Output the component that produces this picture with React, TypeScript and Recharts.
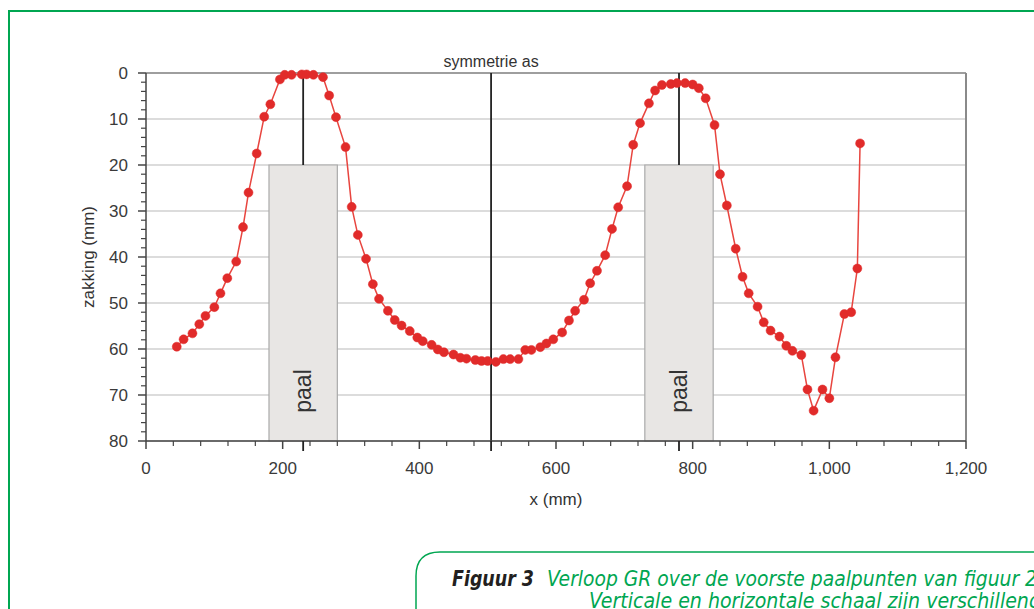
import React from 'react';
import {
  ComposedChart,
  CartesianGrid,
  Line,
  ReferenceArea,
  ReferenceLine,
  XAxis,
  YAxis,
} from 'recharts';

// meetpunten, x in mm
const xMm = [
  45, 55, 68, 78, 87, 100, 109, 119, 132, 142, 150, 162, 173, 182, 196, 203, 213, 228, 235, 245,
  259, 268, 278, 292, 301, 310, 322, 332, 341, 354, 364, 374, 386, 397, 405, 418, 427, 436, 450, 460,
  469, 482, 491, 500, 512, 523, 533, 545, 555, 564, 577, 586, 596, 609, 619, 628, 641, 650, 660, 672,
  682, 691, 704, 713, 723, 736, 745, 755, 768, 777, 789, 800, 809, 819, 832, 840, 850, 863, 873, 882,
  895, 904, 914, 927, 937, 946, 959, 968, 977, 990, 1000, 1009, 1022, 1032, 1041, 1045,
];

// zakking in mm
const zakking = [
  59.5, 57.9, 56.6, 54.6, 52.8, 50.9, 47.9, 44.6, 41.0, 33.5, 26.0, 17.5, 9.5, 6.8, 1.4, 0.4, 0.4, 0.3, 0.3, 0.4,
  0.9, 4.9, 9.6, 16.1, 29.1, 35.2, 40.4, 45.9, 49.1, 51.7, 53.7, 54.9, 56.1, 57.5, 58.3, 59.1, 60.1, 60.7, 61.2, 61.9,
  62.1, 62.4, 62.6, 62.6, 62.8, 62.2, 62.2, 62.2, 60.2, 60.2, 59.6, 58.8, 57.9, 56.4, 53.8, 51.7, 49.3, 45.7, 43.0, 39.6,
  33.9, 29.2, 24.6, 15.6, 10.9, 6.6, 3.8, 2.6, 2.4, 2.2, 2.2, 2.5, 3.3, 5.5, 11.3, 22.0, 28.8, 38.2, 44.3, 47.9,
  50.8, 54.2, 56.0, 57.3, 59.3, 60.4, 61.3, 68.8, 73.4, 68.8, 70.7, 61.8, 52.4, 52.0, 42.5, 15.3,
];

const xTicks = [0, 200, 400, 600, 800, 1000, 1200];
const yTicks = [0, 10, 20, 30, 40, 50, 60, 70, 80];
const xMinorTicks = Array.from({ length: 31 }, (_, i) => i * 40);
const yMinorTicks = Array.from({ length: 41 }, (_, i) => i * 2);
const yMax = 80;

const symmetrieX = 505;
const paalMidden = [230, 780];
const paalVan = [180, 730];
const paalTot = [280, 830];
const paalKop = 20;

const data = xMm.map((x, i) => ({ x, z: zakking[i] }));
const markTicks = [...paalMidden, symmetrieX];
const allXTicks = [...xMinorTicks, ...markTicks].sort((a, b) => a - b);

const FONT = "'Liberation Sans', Arial, sans-serif";
const CAPTION_FONT = "'Liberation Sans Narrow', 'DejaVu Sans Condensed', sans-serif";
const GREEN = '#00a651';
const AXIS = '#444';

const XTick = (props: any) => {
  const { x, y, payload } = props;
  const v = payload.value;
  const isMark = markTicks.includes(v);
  const isMajor = xTicks.includes(v);
  const len = isMark ? 10 : isMajor ? 8 : 5;
  return (
    <g>
      <line
        x1={x}
        x2={x}
        y1={y}
        y2={y + len}
        stroke={isMark ? '#222' : AXIS}
        strokeWidth={isMark ? 1.8 : isMajor ? 1.5 : 1.2}
      />
      {isMajor && (
        <text x={x} y={y + 33} textAnchor="middle" fontSize={17} fontFamily={FONT} fill="#3a3a3a">
          {v.toLocaleString('en-US')}
        </text>
      )}
    </g>
  );
};

const YTick = (props: any) => {
  const { x, y, payload } = props;
  const v = payload.value;
  const isMajor = yTicks.includes(v);
  return (
    <g>
      <line x1={x - (isMajor ? 8 : 5)} x2={x} y1={y} y2={y} stroke={AXIS} strokeWidth={isMajor ? 1.5 : 1.2} />
      {isMajor && (
        <text x={x - 18} y={y + 6} textAnchor="end" fontSize={17} fontFamily={FONT} fill="#3a3a3a">
          {v}
        </text>
      )}
    </g>
  );
};

const PaalLabel = (props: any) => {
  const { x, y, width, height } = props.viewBox;
  const cx = x + width / 2;
  const cy = y + height - 50;
  return (
    <text
      x={cx}
      y={cy}
      transform={`rotate(-90 ${cx} ${cy})`}
      textAnchor="middle"
      dominantBaseline="central"
      fontSize={23}
      fontFamily={FONT}
      fill="#333"
    >
      paal
    </text>
  );
};

const YTitle = (props: any) => {
  const { x, y, width, height } = props.viewBox;
  const cx = x + width - 58;
  const cy = y + height / 2;
  return (
    <text
      x={cx}
      y={cy}
      transform={`rotate(-90 ${cx} ${cy})`}
      textAnchor="middle"
      dominantBaseline="central"
      fontSize={17}
      fontFamily={FONT}
      fill="#333"
    >
      zakking (mm)
    </text>
  );
};

const XTitle = (props: any) => {
  const { x, y, width } = props.viewBox;
  return (
    <text
      x={x + width / 2}
      y={y + 58}
      textAnchor="middle"
      dominantBaseline="central"
      fontSize={17}
      fontFamily={FONT}
      fill="#333"
    >
      x (mm)
    </text>
  );
};

// rasterlijnen alleen op de hoofdstreepjes
const gridRows = ({ yAxis, offset }: any) =>
  yTicks.map((t) =>
    yAxis && typeof yAxis.scale === 'function'
      ? yAxis.scale(t)
      : offset.top + (t / yMax) * offset.height,
  );

export default function App() {
  return (
    <div
      style={{
        position: 'absolute',
        left: 0,
        top: 0,
        width: 1034,
        height: 609,
        overflow: 'hidden',
        background: '#fff',
      }}
    >
      <ComposedChart
        width={1034}
        height={609}
        data={data}
        margin={{ top: 73, right: 68, bottom: 108, left: 0 }}
      >
        <CartesianGrid
          xAxisId="x"
          yAxisId="y"
          vertical={false}
          horizontalCoordinatesGenerator={gridRows}
          stroke="#d0d0d0"
          strokeWidth={1.5}
        />
        <XAxis
          xAxisId="x"
          type="number"
          dataKey="x"
          domain={[0, 1200]}
          ticks={allXTicks}
          interval={0}
          height={60}
          tickSize={0}
          tickMargin={0}
          tick={<XTick />}
          tickLine={false}
          axisLine={{ stroke: AXIS, strokeWidth: 1.5 }}
          label={{ content: XTitle }}
        />
        <YAxis
          yAxisId="y"
          type="number"
          reversed
          domain={[0, yMax]}
          ticks={yMinorTicks}
          interval={0}
          width={146}
          tickSize={0}
          tickMargin={0}
          tick={<YTick />}
          tickLine={false}
          axisLine={{ stroke: AXIS, strokeWidth: 1.5 }}
          label={{ content: YTitle }}
        />
        {paalVan.map((van, i) => (
          <ReferenceArea
            key={`paal-${i}`}
            xAxisId="x"
            yAxisId="y"
            x1={van}
            x2={paalTot[i]}
            y1={paalKop}
            y2={yMax}
            fill="#e8e6e4"
            fillOpacity={1}
            stroke="#aaa"
            strokeWidth={1.2}
            label={{ content: PaalLabel }}
          />
        ))}
        <ReferenceLine xAxisId="x" yAxisId="y" y={0} stroke="#8a8a8a" strokeWidth={1.5} />
        <ReferenceLine xAxisId="x" yAxisId="y" x={1200} stroke="#8a8a8a" strokeWidth={2} />
        {paalMidden.map((m, i) => (
          <ReferenceLine
            key={`kop-${i}`}
            xAxisId="x"
            yAxisId="y"
            segment={[
              { x: m, y: 0 },
              { x: m, y: paalKop },
            ]}
            stroke="#222"
            strokeWidth={1.8}
          />
        ))}
        <ReferenceLine
          xAxisId="x"
          yAxisId="y"
          x={symmetrieX}
          stroke="#222"
          strokeWidth={1.8}
          label={{ value: 'symmetrie as', position: 'top', offset: 6, fontSize: 16, fill: '#333', fontFamily: FONT }}
        />
        <Line
          xAxisId="x"
          yAxisId="y"
          type="linear"
          dataKey="z"
          stroke="#e8453f"
          strokeWidth={1.5}
          dot={{ r: 4.5, fill: '#e12b2a', stroke: '#e12b2a', strokeWidth: 0.5 }}
          isAnimationActive={false}
        />
      </ComposedChart>
      <svg
        width={1034}
        height={609}
        style={{ position: 'absolute', left: 0, top: 0, pointerEvents: 'none' }}
      >
        <path d="M 9 612 L 9 11 L 1040 11" fill="none" stroke={GREEN} strokeWidth={2} />
        <path d="M 416 612 L 416 576 Q 416 552 440 552 L 1040 552" fill="none" stroke={GREEN} strokeWidth={1.5} />
        <text
          x={452}
          y={586}
          fontSize={21}
          fontStyle="italic"
          fontWeight="bold"
          fill="#231f20"
          fontFamily={CAPTION_FONT}
          textLength={82}
          lengthAdjust="spacingAndGlyphs"
        >
          Figuur 3
        </text>
        <text
          x={547}
          y={586}
          fontSize={21}
          fontStyle="italic"
          fill={GREEN}
          fontFamily={CAPTION_FONT}
          textLength={490}
          lengthAdjust="spacingAndGlyphs"
        >
          Verloop GR over de voorste paalpunten van figuur 2
        </text>
        <text
          x={589}
          y={608}
          fontSize={21}
          fontStyle="italic"
          fill={GREEN}
          fontFamily={CAPTION_FONT}
          textLength={452}
          lengthAdjust="spacingAndGlyphs"
        >
          Verticale en horizontale schaal zijn verschillend
        </text>
      </svg>
    </div>
  );
}
